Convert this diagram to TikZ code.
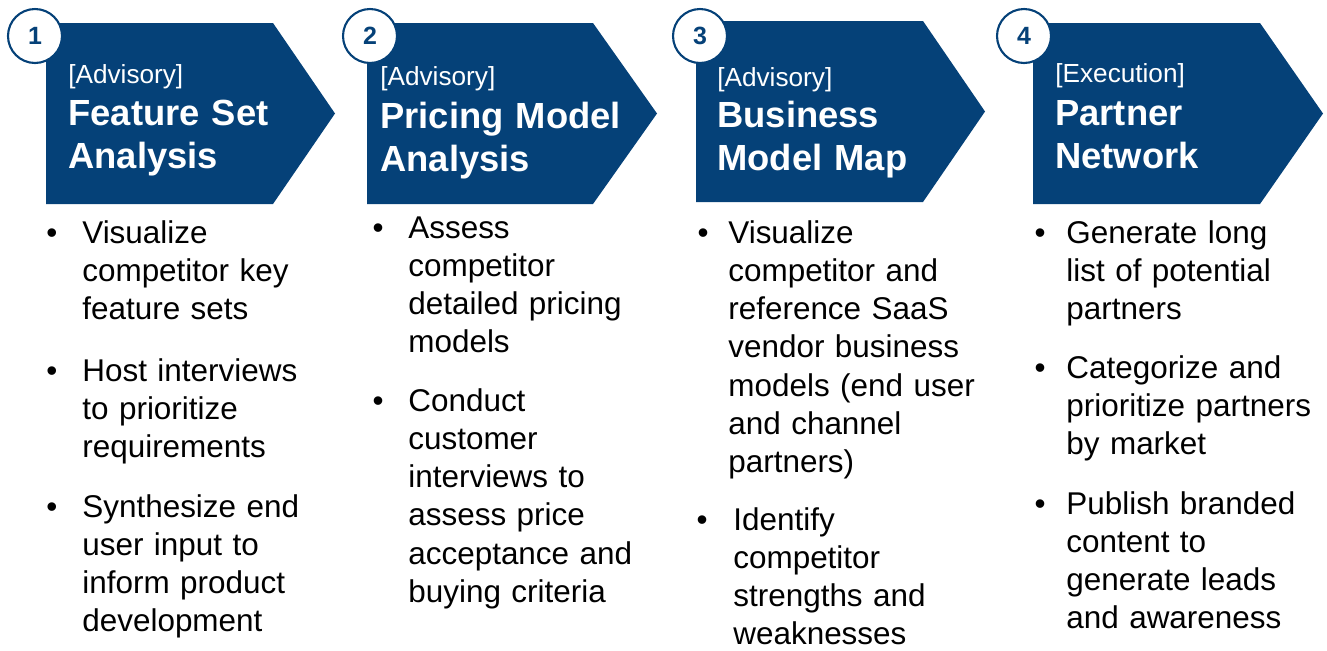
\documentclass[tikz,border=0pt]{standalone}
\usepackage{fontspec}
\setmainfont{Liberation Sans}
\begin{document}
\begin{tikzpicture}[x=0.02cm,y=-0.02cm,
    numcircle/.style={circle,draw=stepblue,line width=1.2pt,fill=white,minimum size=1.08cm,inner sep=0,text=stepblue,font=\bfseries\fontsize{14.2}{14.2}\selectfont},
    tagline/.style={anchor=base west,inner sep=0,text=white,font=\fontsize{14.9}{17}\selectfont},
    headline/.style={anchor=base west,inner sep=0,text=white,text width=5.8cm,align=left,font=\bfseries\fontsize{20.7}{24.6}\selectfont},
    bulletmark/.style={anchor=base,inner sep=0,font=\fontsize{17.9}{21.8}\selectfont},
    itemtext/.style={anchor=base west,inner sep=0,text width=5.8cm,align=left,font=\fontsize{17.9}{21.8}\selectfont}]
  % Define colors
  \definecolor{stepblue}{RGB}{5,65,120}

  \useasboundingbox (0,0) rectangle (1327,650);

  % Chevrons
  \foreach \l/\r/\t/\a/\b in {46/273/335/23/204, 367/593/657/23/204, 696/923/985/21/202, 1033/1260/1323/23/204} {
    \fill[stepblue] (\l,\a) -- (\r,\a) -- (\t,{(\a+\b)/2}) -- (\r,\b) -- (\l,\b) -- cycle;
  }

  % Step numbers
  \foreach \i/\x in {1/35,2/370,3/700,4/1024} {
    \node[numcircle] (num\i) at (\x,36) {\i};
  }

  % Headers
  \node[tagline] (tag1) at (68,83) {[Advisory]};
  \node[headline] (head1) at (68,125) {Feature Set\\Analysis};

  \node[tagline] (tag2) at (380,85) {[Advisory]};
  \node[headline] (head2) at (380,128) {Pricing Model\\Analysis};

  \node[tagline] (tag3) at (717,86) {[Advisory]};
  \node[headline] (head3) at (717,127) {Business\\Model Map};

  \node[tagline] (tag4) at (1055,82) {[Execution]};
  \node[headline] (head4) at (1055,125) {Partner\\Network};

  % Bullets, column 1
  \node[bulletmark] (b11) at (52,243) {•};
  \node[itemtext] (t11) at (82,243) {Visualize\\competitor key\\feature sets};
  \node[bulletmark] (b12) at (52,381) {•};
  \node[itemtext] (t12) at (82,381) {Host interviews\\to prioritize\\requirements};
  \node[bulletmark] (b13) at (52,517) {•};
  \node[itemtext] (t13) at (82,517) {Synthesize end\\user input to\\inform product\\development};

  % Bullets, column 2
  \node[bulletmark] (b21) at (378,238) {•};
  \node[itemtext] (t21) at (408,238) {Assess\\competitor\\detailed pricing\\models};
  \node[bulletmark] (b22) at (378,411) {•};
  \node[itemtext] (t22) at (408,411) {Conduct\\customer\\interviews to\\assess price\\acceptance and\\buying criteria};

  % Bullets, column 3
  \node[bulletmark] (b31) at (703,243) {•};
  \node[itemtext] (t31) at (728,243) {Visualize\\competitor and\\reference SaaS\\vendor business\\models (end user\\and channel\\partners)};
  \node[bulletmark] (b32) at (702,530) {•};
  \node[itemtext] (t32) at (733,530) {Identify\\competitor\\strengths and\\weaknesses};

  % Bullets, column 4
  \node[bulletmark] (b41) at (1040,243) {•};
  \node[itemtext] (t41) at (1066,243) {Generate long\\list of potential\\partners};
  \node[bulletmark] (b42) at (1040,378) {•};
  \node[itemtext] (t42) at (1066,378) {Categorize and\\prioritize partners\\by market};
  \node[bulletmark] (b43) at (1040,514) {•};
  \node[itemtext] (t43) at (1066,514) {Publish branded\\content to\\generate leads\\and awareness};

\end{tikzpicture}
\end{document}
